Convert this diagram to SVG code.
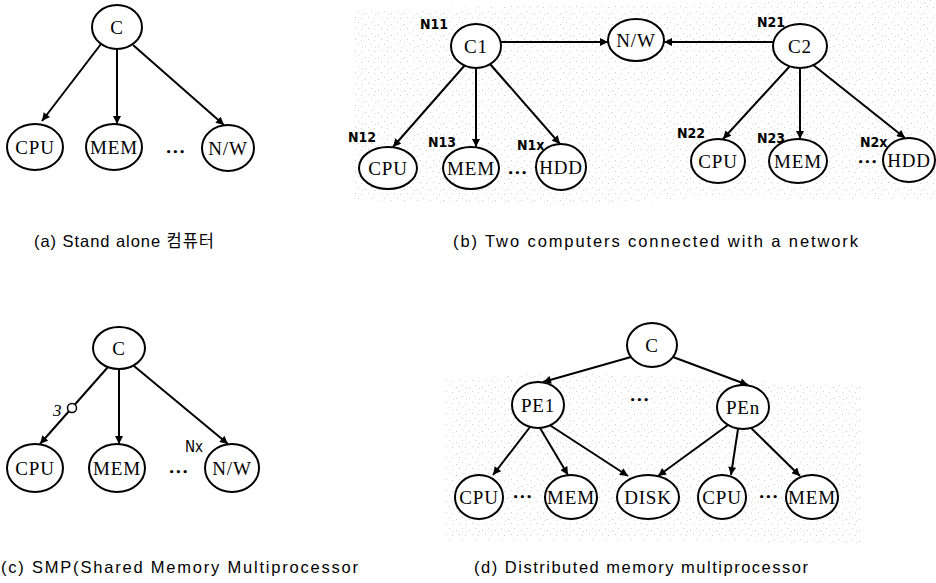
<svg xmlns="http://www.w3.org/2000/svg" width="936" height="583" viewBox="0 0 936 583">
  <style>
    .node ellipse { fill: #fff; stroke: #000; stroke-width: 2; }
    .lbl { font-family: "Liberation Serif", "DejaVu Serif", serif; font-size: 19px; text-anchor: middle; dominant-baseline: central; fill: #000; letter-spacing: 0.8px; }
    .edge { stroke: #000; stroke-width: 2; fill: none; marker-end: url(#head); }
    .tag { font-family: "DejaVu Sans Condensed", "DejaVu Sans", sans-serif; font-stretch: condensed; font-weight: bold; font-size: 14px; fill: #000; }
    .dots { font-family: "DejaVu Sans", sans-serif; font-size: 9px; font-weight: bold; text-anchor: middle; dominant-baseline: central; letter-spacing: 1px; fill: #000; }
    .cap { font-family: "Liberation Sans", "Noto Sans CJK KR", sans-serif; font-size: 16.5px; fill: #000; }
  </style>
  <defs>
    <marker id="head" viewBox="0 0 10 10" refX="10" refY="5" markerWidth="9" markerHeight="8" markerUnits="userSpaceOnUse" orient="auto">
      <path d="M0,0 L10,5 L0,10 z" fill="#000"/>
    </marker>
    <pattern id="stipple" width="13" height="11" patternUnits="userSpaceOnUse">
      <rect x="1" y="2" width="1" height="1" fill="#8a8a8a"/>
      <rect x="7" y="0" width="1" height="1" fill="#a0a0a0"/>
      <rect x="4" y="6" width="1" height="1" fill="#909090"/>
      <rect x="10" y="7" width="1" height="1" fill="#9a9a9a"/>
      <rect x="11" y="3" width="1" height="1" fill="#b0b0b0"/>
    </pattern>
  </defs>

  <!-- halftone shading behind panels (b) and (d) -->
  <g id="shading" opacity="0.45">
    <path d="M355,10 L560,5 L936,0 L936,200 L700,198 L560,205 L355,200 Z" fill="url(#stipple)"/>
    <path d="M445,380 L560,372 L700,378 L860,385 L860,545 L700,540 L445,540 Z" fill="url(#stipple)"/>
  </g>

  <!-- connectors -->
  <g id="connectors">
    <!-- (a) -->
    <line class="edge" x1="101" y1="44" x2="42" y2="121"/>
    <line class="edge" x1="117" y1="49" x2="117" y2="124"/>
    <line class="edge" x1="133" y1="45" x2="224" y2="125"/>
    <!-- (b) -->
    <line class="edge" x1="499" y1="42" x2="608" y2="42"/>
    <line class="edge" x1="773" y1="42" x2="664" y2="42"/>
    <line class="edge" x1="465" y1="65" x2="393" y2="147"/>
    <line class="edge" x1="476" y1="67" x2="476" y2="147"/>
    <line class="edge" x1="490" y1="64" x2="560" y2="144"/>
    <line class="edge" x1="790" y1="66" x2="723" y2="139"/>
    <line class="edge" x1="800" y1="67" x2="800" y2="139"/>
    <line class="edge" x1="812" y1="64" x2="905" y2="138"/>
    <!-- (c) -->
    <line class="edge" x1="108" y1="367" x2="40" y2="444"/>
    <line class="edge" x1="119" y1="369" x2="119" y2="444"/>
    <line class="edge" x1="134" y1="366" x2="228" y2="444"/>
    <!-- (d) -->
    <line class="edge" x1="631" y1="357" x2="543" y2="382"/>
    <line class="edge" x1="673" y1="357" x2="748" y2="385"/>
    <line class="edge" x1="530" y1="427" x2="493" y2="475"/>
    <line class="edge" x1="540" y1="428" x2="568" y2="475"/>
    <line class="edge" x1="548" y1="424" x2="628" y2="476"/>
    <line class="edge" x1="728" y1="425" x2="658" y2="476"/>
    <line class="edge" x1="738" y1="429" x2="731" y2="475"/>
    <line class="edge" x1="750" y1="427" x2="800" y2="476"/>
  </g>

  <!-- (a) stand-alone computer -->
  <g id="a-C" class="node"><ellipse cx="117" cy="27" rx="25" ry="22"/><text class="lbl" x="117" y="27">C</text></g>
  <g id="a-CPU" class="node"><ellipse cx="35" cy="147" rx="28" ry="23"/><text class="lbl" x="35" y="147">CPU</text></g>
  <g id="a-MEM" class="node"><ellipse cx="114" cy="147" rx="28" ry="23"/><text class="lbl" x="114" y="147">MEM</text></g>
  <g id="a-NW" class="node"><ellipse cx="228" cy="148" rx="26" ry="23"/><text class="lbl" x="228" y="148">N/W</text></g>
  <text class="dots" x="176" y="152">•••</text>

  <!-- (b) two computers on a network -->
  <g id="b-C1" class="node"><ellipse cx="476" cy="46" rx="25" ry="22"/><text class="lbl" x="476" y="46">C1</text></g>
  <g id="b-NW" class="node"><ellipse cx="636" cy="40" rx="28" ry="21"/><text class="lbl" x="636" y="40">N/W</text></g>
  <g id="b-C2" class="node"><ellipse cx="800" cy="46" rx="27" ry="22"/><text class="lbl" x="800" y="46">C2</text></g>
  <g id="b-CPU1" class="node"><ellipse cx="388" cy="168" rx="29" ry="21"/><text class="lbl" x="388" y="168">CPU</text></g>
  <g id="b-MEM1" class="node"><ellipse cx="471" cy="168" rx="28" ry="21"/><text class="lbl" x="471" y="168">MEM</text></g>
  <g id="b-HDD1" class="node"><ellipse cx="561" cy="167" rx="25" ry="23"/><text class="lbl" x="561" y="167">HDD</text></g>
  <g id="b-CPU2" class="node"><ellipse cx="718" cy="161" rx="27" ry="22"/><text class="lbl" x="718" y="161">CPU</text></g>
  <g id="b-MEM2" class="node"><ellipse cx="798" cy="161" rx="29" ry="22"/><text class="lbl" x="798" y="161">MEM</text></g>
  <g id="b-HDD2" class="node"><ellipse cx="909" cy="160" rx="26" ry="22"/><text class="lbl" x="909" y="160">HDD</text></g>
  <text class="dots" x="518" y="173">•••</text>
  <text class="dots" x="868" y="162">•••</text>
  <text class="tag" x="420" y="29">N11</text>
  <text class="tag" x="348" y="142">N12</text>
  <text class="tag" x="428" y="147">N13</text>
  <text class="tag" x="517" y="150">N1x</text>
  <text class="tag" x="757" y="27">N21</text>
  <text class="tag" x="677" y="138">N22</text>
  <text class="tag" x="757" y="143">N23</text>
  <text class="tag" x="860" y="147">N2x</text>

  <!-- (c) SMP -->
  <g id="c-C" class="node"><ellipse cx="119" cy="348" rx="26" ry="21"/><text class="lbl" x="119" y="348">C</text></g>
  <g id="c-CPU" class="node"><ellipse cx="35" cy="468" rx="28" ry="24"/><text class="lbl" x="35" y="468">CPU</text></g>
  <g id="c-MEM" class="node"><ellipse cx="117" cy="468" rx="28" ry="24"/><text class="lbl" x="117" y="468">MEM</text></g>
  <g id="c-NW" class="node"><ellipse cx="232" cy="468" rx="27" ry="24"/><text class="lbl" x="232" y="468">N/W</text></g>
  <text class="dots" x="179" y="472">•••</text>
  <circle cx="72" cy="408" r="4.5" fill="#fff" stroke="#000" stroke-width="1.5"/>
  <text x="53" y="416" font-family="Liberation Serif, serif" font-style="italic" font-size="17">3</text>
  <text x="185" y="452" font-family="DejaVu Sans Condensed, DejaVu Sans, sans-serif" font-stretch="condensed" font-size="15">Nx</text>

  <!-- (d) distributed memory multiprocessor -->
  <g id="d-C" class="node"><ellipse cx="652" cy="345" rx="25" ry="22"/><text class="lbl" x="652" y="345">C</text></g>
  <g id="d-PE1" class="node"><ellipse cx="538" cy="405" rx="26" ry="23"/><text class="lbl" x="538" y="405">PE1</text></g>
  <g id="d-PEn" class="node"><ellipse cx="743" cy="407" rx="26" ry="22"/><text class="lbl" x="743" y="407">PEn</text></g>
  <g id="d-CPU1" class="node"><ellipse cx="479" cy="497" rx="24" ry="22"/><text class="lbl" x="479" y="497">CPU</text></g>
  <g id="d-MEM1" class="node"><ellipse cx="571" cy="497" rx="26" ry="22"/><text class="lbl" x="571" y="497">MEM</text></g>
  <g id="d-DISK" class="node"><ellipse cx="648" cy="497" rx="31" ry="22"/><text class="lbl" x="648" y="497">DISK</text></g>
  <g id="d-CPU2" class="node"><ellipse cx="722" cy="497" rx="24" ry="22"/><text class="lbl" x="722" y="497">CPU</text></g>
  <g id="d-MEM2" class="node"><ellipse cx="812" cy="497" rx="26" ry="22"/><text class="lbl" x="812" y="497">MEM</text></g>
  <text class="dots" x="640" y="400">•••</text>
  <text class="dots" x="523" y="497">•••</text>
  <text class="dots" x="769" y="497">•••</text>

  <!-- captions -->
  <text class="cap" x="34" y="247" textLength="180" lengthAdjust="spacing">(a) Stand alone 컴퓨터</text>
  <text class="cap" x="453" y="247" textLength="405" lengthAdjust="spacing">(b) Two computers connected with a network</text>
  <text class="cap" x="1" y="573" textLength="357" lengthAdjust="spacing">(c) SMP(Shared Memory Multiprocessor</text>
  <text class="cap" x="474" y="573" textLength="334" lengthAdjust="spacing">(d) Distributed memory multiprocessor</text>
</svg>
